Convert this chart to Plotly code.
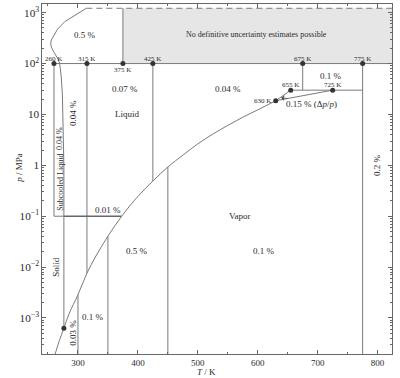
import numpy as np
import plotly.graph_objects as go

# ---------------- data (T in K, p in MPa) ----------------
# melting curve (ice VI ... ice Ih) down to the triple point
T_melt = [314, 296, 278, 266, 258.3, 255.5, 254.5, 255.3, 257.8, 261, 264.5, 267.5, 269.5, 272, 274, 275, 276, 276.5, 276.5]
p_melt = [1220, 900, 666, 474, 338, 290, 251, 215, 185, 160, 141, 118, 100, 57, 25, 10, 3, 1, 6.3e-4]

# sublimation + vapour-pressure curve up to 630 K
T_vap = [262, 269, 276.5, 285, 300, 315, 330, 350, 373, 400, 425, 450, 475,
         500, 525, 550, 575, 600, 630]
p_vap = [1.96e-4, 3.6e-4, 6.3e-4, 1.2e-3, 2.86e-3, 7.6e-3, 0.0165, 0.0405, 0.1,
         0.245, 0.49, 0.93, 1.58, 2.64, 4.1, 6.1, 8.8, 12.3, 18.6]

p_upper = 1220            # dashed upper limit
T_far = 830               # right-hand end of isobars
p_low = 1e-4              # below the plotted range
T_range = [240, 824]
p_range = [1.96e-4, 1480]

# labelled points
T_dot100 = [260, 315, 375, 425, 675, 775]
p_dot100 = [100, 100, 100, 100, 100, 100]
T_crit = [630, 655, 725]
p_crit = [18.6, 30, 30]
T_triple = 276.5
p_triple = 6.3e-4
T_arrow, p_arrow = 639, 21.3   # small pointer into the critical wedge

# region boundaries: (T0, T1, p0, p1)
bounds = [
    (260, T_far, 100, 100),        # 100 MPa isobar
    (260, 260, 100, 0.1),          # subcooled liquid box
    (260, 276.5, 0.1, 0.1),
    (315, 315, 100, 7.6e-3),
    (375, 375, p_upper, 100),
    (425, 425, 100, 0.49),
    (675, 675, 100, 30),
    (775, 775, 100, p_low),
    (300, 300, 2.86e-3, p_low),
    (350, 350, 0.0405, p_low),
    (450, 450, 0.93, p_low),
    (655, 775, 30, 30),
    (630, 655, 18.6, 30),
    (630, 725, 18.6, 30),
]
bound_001 = (276.5, 373, 0.1, 0.1)  # 0.01 % isobar

# gray "no estimate" region
T_gray = [375, T_far, T_far, 375, 375]
p_gray = [100, 100, p_upper, p_upper, 100]

# text labels: (text, T, p, angle, size)
labels = [
    ("0.5 %", 311, 370, 0, 9),
    ("No definitive uncertainty estimates possible", 598, 370, 0, 8),
    ("0.07 %", 379, 31, 0, 9),
    ("Liquid", 381, 10, 0, 9),
    ("0.04 %", 293, 10.5, -90, 9),
    ("0.04 %", 269.5, 3.4, -90, 8),
    ("Subcooled Liquid", 269.5, 0.47, -90, 8),
    ("0.04 %", 550, 31, 0, 9),
    ("0.1 %", 722, 56, 0, 9),
    ("0.15 % (Δ<i>p</i>/<i>p</i>)", 690, 16.3, 0, 9),
    ("0.2 %", 800, 1.0, -90, 9),
    ("0.01 %", 350, 0.135, 0, 9),
    ("Vapor", 570, 0.103, 0, 9),
    ("0.5 %", 399, 0.0203, 0, 9),
    ("0.1 %", 611, 0.021, 0, 9),
    ("Solid", 264, 0.0103, -90, 9),
    ("0.1 %", 325, 1.03e-3, 0, 9),
    ("0.03 %", 291.5, 5.1e-4, -90, 9),
]
# point labels: (text, T, p, where)
pt_labels = [
    ("260 K", 260, 100, "above"), ("315 K", 315, 100, "above"),
    ("375 K", 375, 100, "below"), ("425 K", 425, 100, "above"),
    ("675 K", 675, 100, "above"), ("775 K", 775, 100, "above"),
    ("655 K", 655, 30, "above"), ("725 K", 725, 30, "above"),
    ("630 K", 630, 18.6, "left"),
]

# ---------------- figure ----------------
LINE = "#7a7a7a"
TXT = "#2b2b2b"
FONT = "Liberation Serif"

fig = go.Figure()
fig.add_trace(go.Scatter(x=T_gray, y=p_gray, mode="lines", fill="toself",
                         fillcolor="#e6e6e6", line=dict(width=0),
                         hoverinfo="skip", showlegend=False))

bx, by = [], []
for t0, t1, q0, q1 in bounds:
    bx += [t0, t1, None]
    by += [q0, q1, None]
fig.add_trace(go.Scatter(x=bx, y=by, mode="lines", line=dict(color=LINE, width=1),
                         hoverinfo="skip", showlegend=False))
fig.add_trace(go.Scatter(x=[bound_001[0], bound_001[1]], y=[bound_001[2], bound_001[3]],
                         mode="lines", line=dict(color="#666666", width=1.6),
                         hoverinfo="skip", showlegend=False))
fig.add_trace(go.Scatter(x=[T_melt[0], T_far], y=[p_upper, p_upper], mode="lines",
                         line=dict(color=LINE, width=1, dash="6px,4px"),
                         hoverinfo="skip", showlegend=False))
fig.add_trace(go.Scatter(x=T_melt, y=p_melt, mode="lines", line=dict(color=LINE, width=1),
                         hoverinfo="skip", showlegend=False))
fig.add_trace(go.Scatter(x=T_vap, y=p_vap, mode="lines", line=dict(color=LINE, width=1),
                         line_shape="spline", hoverinfo="skip", showlegend=False))
fig.add_trace(go.Scatter(x=T_dot100 + T_crit + [T_triple], y=p_dot100 + p_crit + [p_triple],
                         mode="markers", marker=dict(color="#333333", size=5),
                         hoverinfo="skip", showlegend=False))

ann = []
for txt, t, p, ang, sz in labels:
    ann.append(dict(x=t, y=np.log10(p), xref="x", yref="y", text=txt, showarrow=False,
                    textangle=ang, font=dict(family=FONT, size=sz, color=TXT)))
for txt, t, p, where in pt_labels:
    d = dict(x=t, y=np.log10(p), xref="x", yref="y", text=txt, showarrow=False,
             font=dict(family=FONT, size=7, color=TXT))
    if where == "above":
        d.update(yanchor="bottom", yshift=-1)
    elif where == "below":
        d.update(yanchor="top", yshift=0)
    else:
        d.update(xanchor="right", xshift=-3)
    ann.append(d)
ann.append(dict(x=T_arrow, y=np.log10(p_arrow), xref="x", yref="y", text="",
                showarrow=True, ax=8, ay=1, arrowhead=1, arrowsize=1.2,
                arrowwidth=0.8, arrowcolor="#555555"))
ann.append(dict(x=0.471, y=-0.0514, xref="paper", yref="paper", text="<i>T</i> / K",
                showarrow=False, yanchor="middle", font=dict(family=FONT, size=9, color=TXT)))
ann.append(dict(x=-0.0866, y=0.531, xref="paper", yref="paper", text="<i>p</i> / MPa",
                showarrow=False, textangle=-90, font=dict(family=FONT, size=9, color=TXT)))

axis_common = dict(showline=True, linecolor="#666666", linewidth=1, mirror="ticks",
                   ticks="inside", tickcolor="#666666", ticklen=4, showgrid=False,
                   zeroline=False, automargin=False,
                   tickfont=dict(family=FONT, size=9, color=TXT))
fig.update_xaxes(range=T_range, tickvals=[300, 400, 500, 600, 700, 800],
                 minor=dict(ticks="inside", ticklen=2, dtick=50, tickcolor="#666666"),
                 **axis_common)
fig.update_yaxes(type="log", range=[np.log10(p_range[0]), np.log10(p_range[1])],
                 dtick=1, exponentformat="power",
                 minor=dict(ticks="inside", ticklen=2, dtick="D1", tickcolor="#666666"),
                 **axis_common)
fig.update_layout(width=400, height=378, margin=dict(l=42, r=8, t=4, b=24),
                  plot_bgcolor="white", paper_bgcolor="white", annotations=ann,
                  showlegend=False, hovermode=False)
fig.write_html("out.html", config={"displayModeBar": False, "staticPlot": True},
               post_script="document.body.style.margin='0';document.body.style.overflow='hidden';")
